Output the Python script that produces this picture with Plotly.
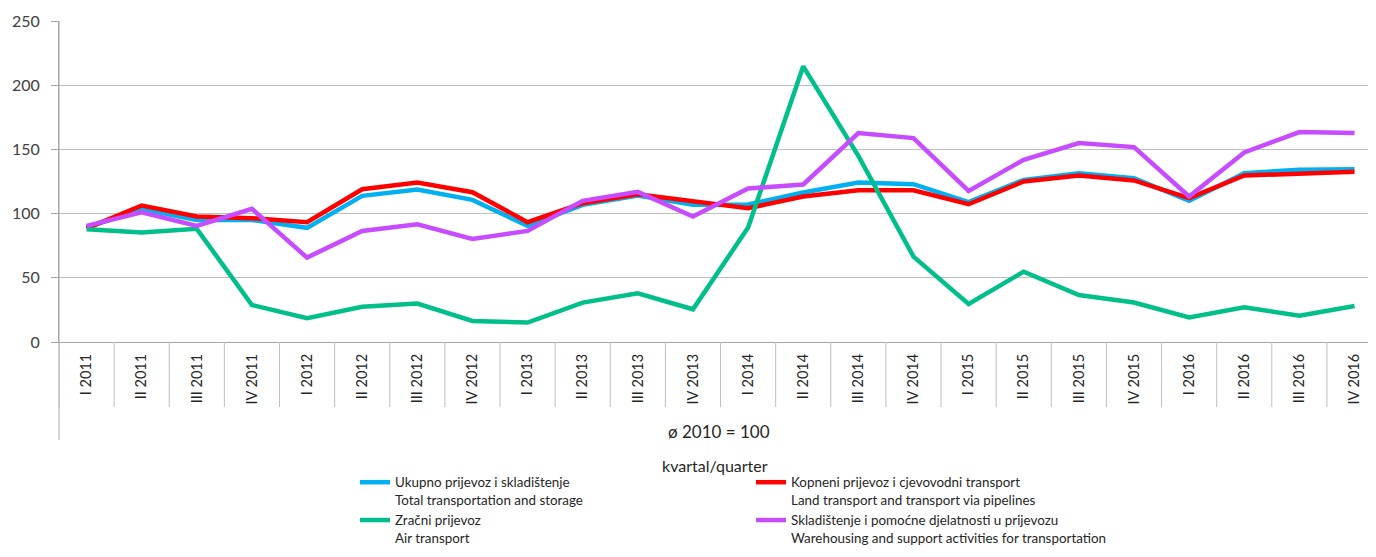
import plotly.graph_objects as go

categories = ["I 2011", "II 2011", "III 2011", "IV 2011",
              "I 2012", "II 2012", "III 2012", "IV 2012",
              "I 2013", "II 2013", "III 2013", "IV 2013",
              "I 2014", "II 2014", "III 2014", "IV 2014",
              "I 2015", "II 2015", "III 2015", "IV 2015",
              "I 2016", "II 2016", "III 2016", "IV 2016"]

total = [89.1, 103.5, 95.0, 95.0, 88.9, 113.8, 118.8, 110.7,
         90.4, 106.8, 114.1, 106.8, 107.1, 116.4, 124.2, 122.9,
         108.9, 126.3, 131.5, 127.6, 109.9, 131.5, 134.1, 134.6]
land = [88.5, 106.3, 97.7, 96.4, 93.3, 119.0, 124.2, 116.7,
        93.3, 108.1, 115.1, 109.9, 104.2, 113.3, 118.2, 118.2,
        107.3, 125.0, 129.7, 125.8, 112.0, 129.7, 131.5, 132.5]
air = [87.8, 85.2, 88.1, 28.8, 18.5, 27.5, 29.9, 16.4,
       15.1, 30.7, 37.9, 25.5, 89.1, 214.7, 145.0, 66.5,
       29.6, 54.8, 36.6, 30.7, 19.2, 27.0, 20.5, 28.1]
warehousing = [90.4, 101.0, 90.4, 103.7, 65.7, 86.5, 91.7, 80.3,
               86.5, 109.9, 116.9, 97.7, 119.5, 122.7, 162.7, 158.8,
               117.7, 141.9, 154.9, 151.8, 113.3, 147.6, 163.5, 162.7]

series_names = [
    "Ukupno prijevoz i skladištenje<br>Total transportation and storage",
    "Kopneni prijevoz i cjevovodni transport<br>Land transport and transport via pipelines",
    "Zračni prijevoz<br>Air transport",
    "Skladištenje i pomoćne djelatnosti u prijevozu<br>Warehousing and support activities for transportation",
]
series_values = [total, land, air, warehousing]
series_colors = ["#00B0F0", "#FF0000", "#00BF8A", "#C84CFF"]
series_legend = ["legend", "legend2", "legend", "legend2"]

y_ticks = [0, 50, 100, 150, 200, 250]

FONT = "Lato, 'Open Sans', sans-serif"
# page has an 8px body margin: figure coords = screen coords - 8
OFF = 8
FIG_W, FIG_H = 1376 - OFF, 557 - OFF
L, T = 59 - OFF, 21 - OFF
W, H = FIG_W - L, 321
B = FIG_H - T - H


def py(screen_y):
    """screen pixel y -> paper y"""
    return (342 - screen_y) / H


def px(screen_x):
    return (screen_x - 59) / W


fig = go.Figure()
x_idx = list(range(len(categories)))
for k, (name, vals, col, lg) in enumerate(zip(series_names, series_values,
                                              series_colors, series_legend)):
    fig.add_trace(go.Scatter(x=x_idx, y=vals, mode="lines", name=name,
                             legend=lg, legendgroup=f"g{k}",
                             line=dict(color=col, width=4.5)))

shapes = []
for i in range(len(categories) + 1):
    b = i - 0.5
    shapes.append(dict(type="line", xref="x", yref="paper", x0=b, x1=b,
                       y0=0, y1=py(407), line=dict(color="#BFBFBF", width=1)))
shapes.append(dict(type="line", xref="paper", yref="paper", x0=0, x1=0,
                   y0=1, y1=py(440), line=dict(color="#A6A6A6", width=1)))

legend_common = dict(orientation="v", yanchor="top", valign="top",
                     font=dict(size=13.4, family=FONT, color="#262626"),
                     bgcolor="rgba(0,0,0,0)", tracegroupgap=14,
                     traceorder="normal")

fig.update_layout(
    width=FIG_W, height=FIG_H,
    margin=dict(l=L, r=0, t=T, b=B, autoexpand=False),
    paper_bgcolor="white", plot_bgcolor="white",
    font=dict(family=FONT, color="#262626"),
    showlegend=True,
    legend=dict(x=px(355), xanchor="left", y=py(467), **legend_common),
    legend2=dict(x=px(751), xanchor="left", y=py(467), **legend_common),
    xaxis=dict(tickmode="array", tickvals=x_idx, ticktext=categories,
               tickangle=-90, range=[-0.5, 23.39], showgrid=False,
               showline=True, linecolor="#A6A6A6", linewidth=1,
               ticks="", tickfont=dict(size=14.5, color="#262626"),
               ticklabelstandoff=5, zeroline=False, fixedrange=True),
    yaxis=dict(range=[0, 250], tickvals=y_ticks, showgrid=True,
               gridcolor="#BFBFBF", gridwidth=1, showline=True,
               linecolor="#A6A6A6", ticks="outside", ticklen=7,
               tickcolor="#A6A6A6", tickfont=dict(size=16, color="#404040"),
               ticklabelstandoff=8, zeroline=False),
    shapes=shapes,
    annotations=[
        dict(text="ø 2010 = 100", xref="paper", yref="paper",
             x=px(719), y=py(431), xanchor="center", yanchor="middle",
             showarrow=False, font=dict(size=17, color="#262626")),
        dict(text="kvartal/quarter", xref="paper", yref="paper",
             x=px(715), y=py(465), xanchor="center", yanchor="middle",
             showarrow=False, font=dict(size=16, color="#262626")),
    ],
)

fig.write_html("out.html")
